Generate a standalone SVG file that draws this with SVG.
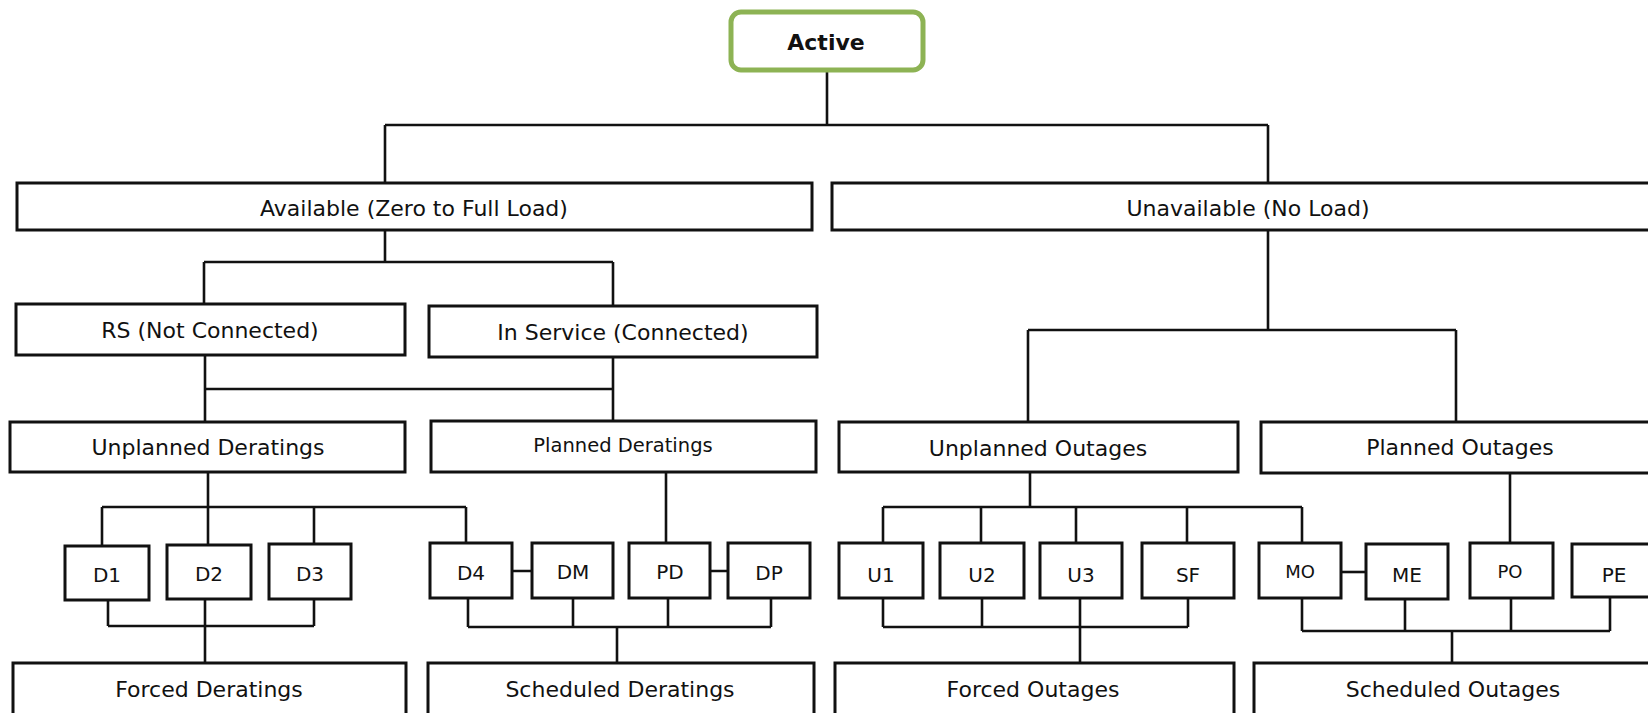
<svg xmlns="http://www.w3.org/2000/svg" width="1648" height="713" viewBox="0 0 1648 713">
<style>
.b{fill:#fff;stroke:#111;stroke-width:3}
.t{font-family:"DejaVu Sans","Verdana",sans-serif;font-size:22px;fill:#111;text-anchor:middle}
.s{font-size:20px}
.xs{font-size:18px}
.c{fill:none;stroke:#111;stroke-width:2.6}
</style>
<rect width="1648" height="713" fill="#fff"/>
<g id="connectors" class="c">
<path d="M827,72V125M385,125H1268M385,125V183M1268,125V183"/>
<path d="M385,230V262M204,262H613M204,262V304M613,262V306"/>
<path d="M205,355V422M613,357V421M205,389H613"/>
<path d="M1268,230V330M1028,330H1456M1028,330V422M1456,330V422"/>
<path d="M208,472V507M102,507H466M102,507V546M208,507V545M314,507V544M466,507V543"/>
<path d="M666,472V543"/>
<path d="M512,571H532M710,571H728"/>
<path d="M108,600V626M205,599V626M314,599V626M108,626H314M205,626V663"/>
<path d="M468,598V627M573,598V627M668,598V627M771,598V627M468,627H771M617,627V663"/>
<path d="M1030,472V507M883,507H1302M883,507V543M981,507V543M1076,507V543M1187,507V543M1302,507V543"/>
<path d="M1510,473V543"/>
<path d="M1341,572H1366"/>
<path d="M883,598V627M982,598V627M1080,598V627M1188,598V627M883,627H1188M1080,627V663"/>
<path d="M1302,598V631M1405,599V631M1511,598V631M1610,598V631M1302,631H1610M1452,631V663"/>
</g>
<g id="active">
<rect x="731" y="12" width="192" height="58" rx="10" fill="#fff" stroke="#8db354" stroke-width="5"/>
<text class="t" x="826" y="50" font-weight="bold">Active</text>
</g>
<g id="available"><rect class="b" x="17" y="183" width="795" height="47"/><text class="t" x="414" y="216">Available (Zero to Full Load)</text></g>
<g id="unavailable"><rect class="b" x="832" y="183" width="830" height="47"/><text class="t" x="1248" y="216">Unavailable (No Load)</text></g>
<g id="rs"><rect class="b" x="16" y="304" width="389" height="51"/><text class="t" x="210" y="338">RS (Not Connected)</text></g>
<g id="inservice"><rect class="b" x="429" y="306" width="388" height="51"/><text class="t" x="623" y="340">In Service (Connected)</text></g>
<g id="unplanned-deratings"><rect class="b" x="10" y="422" width="395" height="50"/><text class="t" x="208" y="455">Unplanned Deratings</text></g>
<g id="planned-deratings"><rect class="b" x="431" y="421" width="385" height="51"/><text class="t" x="623" y="452" style="font-size:19.5px">Planned Deratings</text></g>
<g id="unplanned-outages"><rect class="b" x="839" y="422" width="399" height="50"/><text class="t" x="1038" y="456">Unplanned Outages</text></g>
<g id="planned-outages"><rect class="b" x="1261" y="422" width="400" height="51"/><text class="t" x="1460" y="455">Planned Outages</text></g>
<g id="d1"><rect class="b" x="65" y="546" width="84" height="54"/><text class="t s" x="107" y="582">D1</text></g>
<g id="d2"><rect class="b" x="167" y="545" width="84" height="54"/><text class="t s" x="209" y="581">D2</text></g>
<g id="d3"><rect class="b" x="269" y="544" width="82" height="55"/><text class="t s" x="310" y="581">D3</text></g>
<g id="d4"><rect class="b" x="430" y="543" width="82" height="55"/><text class="t s" x="471" y="580">D4</text></g>
<g id="dm"><rect class="b" x="532" y="543" width="81" height="55"/><text class="t s" x="573" y="579">DM</text></g>
<g id="pd"><rect class="b" x="629" y="543" width="81" height="55"/><text class="t s" x="670" y="579">PD</text></g>
<g id="dp"><rect class="b" x="728" y="543" width="82" height="55"/><text class="t s" x="769" y="580">DP</text></g>
<g id="u1"><rect class="b" x="839" y="543" width="84" height="55"/><text class="t s" x="881" y="582">U1</text></g>
<g id="u2"><rect class="b" x="940" y="543" width="84" height="55" stroke-width="3.5"/><text class="t s" x="982" y="582">U2</text></g>
<g id="u3"><rect class="b" x="1040" y="543" width="82" height="55"/><text class="t s" x="1081" y="582">U3</text></g>
<g id="sf"><rect class="b" x="1142" y="543" width="92" height="55"/><text class="t s" x="1188" y="582">SF</text></g>
<g id="mo"><rect class="b" x="1259" y="543" width="82" height="55"/><text class="t xs" x="1300" y="578">MO</text></g>
<g id="me"><rect class="b" x="1366" y="544" width="82" height="55"/><text class="t s" x="1407" y="582">ME</text></g>
<g id="po"><rect class="b" x="1470" y="543" width="83" height="55"/><text class="t xs" x="1510" y="578">PO</text></g>
<g id="pe"><rect class="b" x="1572" y="544" width="86" height="53"/><text class="t s" x="1614" y="582">PE</text></g>
<g id="forced-deratings"><rect class="b" x="13" y="663" width="393" height="60"/><text class="t" x="209" y="697">Forced Deratings</text></g>
<g id="scheduled-deratings"><rect class="b" x="428" y="663" width="386" height="60"/><text class="t" x="620" y="697">Scheduled Deratings</text></g>
<g id="forced-outages"><rect class="b" x="835" y="663" width="399" height="60"/><text class="t" x="1033" y="697">Forced Outages</text></g>
<g id="scheduled-outages"><rect class="b" x="1254" y="663" width="400" height="60"/><text class="t" x="1453" y="697">Scheduled Outages</text></g>
</svg>
